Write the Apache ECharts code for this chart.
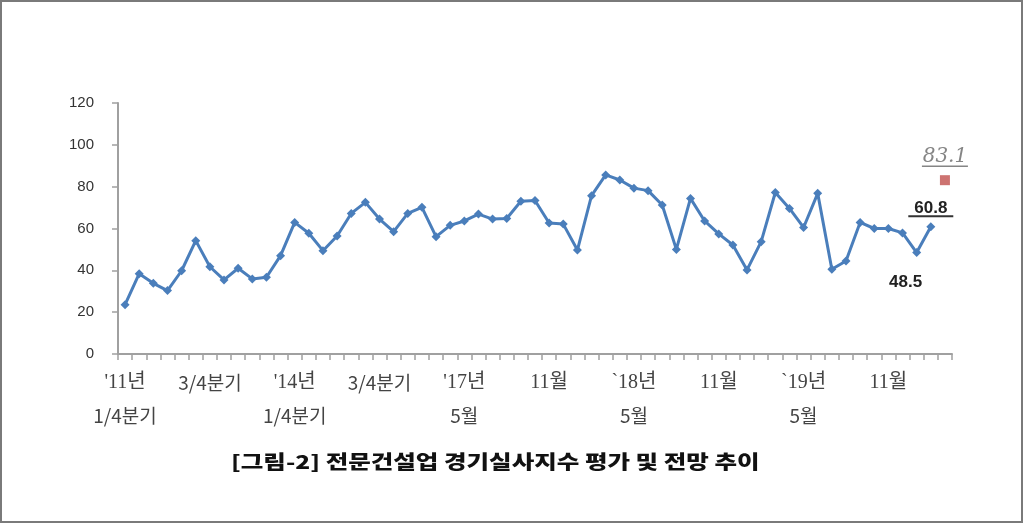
<!DOCTYPE html>
<html>
<head>
<meta charset="utf-8">
<script src="https://cdn.jsdelivr.net/npm/echarts@6/dist/echarts.min.js"></script>
<style>
  html, body { margin: 0; padding: 0; background: #fff; }
  #chart { position: absolute; left: 0; top: 0; width: 1024px; height: 524px; }
  #frame { position: absolute; left: 0; top: 0; width: 1023px; height: 523px; box-sizing: border-box; border: 2px solid #7a7a7a; pointer-events: none; }
</style>
</head>
<body>
<div id="chart"></div>
<div id="frame"></div>
<script>
// Categories: quarterly 2011Q1-2016Q4, then monthly 2017.5 - 2020.3 (last = outlook)
const categories = [
  '2011 1/4','2011 2/4','2011 3/4','2011 4/4',
  '2012 1/4','2012 2/4','2012 3/4','2012 4/4',
  '2013 1/4','2013 2/4','2013 3/4','2013 4/4',
  '2014 1/4','2014 2/4','2014 3/4','2014 4/4',
  '2015 1/4','2015 2/4','2015 3/4','2015 4/4',
  '2016 1/4','2016 2/4','2016 3/4','2016 4/4',
  '2017.05','2017.06','2017.07','2017.08','2017.09','2017.10','2017.11','2017.12',
  '2018.01','2018.02','2018.03','2018.04','2018.05','2018.06','2018.07','2018.08','2018.09','2018.10','2018.11','2018.12',
  '2019.01','2019.02','2019.03','2019.04','2019.05','2019.06','2019.07','2019.08','2019.09','2019.10','2019.11','2019.12',
  '2020.01','2020.02','2020.03'
];

// Tick labels shown under the axis: index -> [first row, second row]
const tickLabels = {
  0: ["'11년", '1/4분기'],
  6: ['3/4분기'],
  12: ["'14년", '1/4분기'],
  18: ['3/4분기'],
  24: ["'17년", '5월'],
  30: ['11월'],
  36: ['`18년', '5월'],
  42: ['11월'],
  48: ['`19년', '5월'],
  54: ['11월']
};

// Actual index (evaluation), one per category except the outlook month
const actualValues = [
  23.6, 38.4, 33.8, 30.3, 39.8, 54.2, 41.7, 35.4, 41.0, 35.9,
  36.7, 47.0, 62.9, 57.7, 49.4, 56.4, 67.2, 72.5, 64.5, 58.5,
  67.2, 70.1, 56.1, 61.5, 63.6, 66.9, 64.5, 64.8, 73.0, 73.4,
  62.6, 62.1, 49.7, 75.7, 85.6, 83.2, 79.3, 78.1, 71.2, 50.0,
  74.4, 63.6, 57.4, 52.1, 40.2, 53.7, 77.2, 69.6, 60.5, 76.8,
  40.5, 44.5, 62.9, 60.0, 60.0, 57.9, 48.5, 60.8
];

// Outlook for the next month
const forecastCategory = '2020.03';
const forecastValue = 83.1;

const yTicks = { min: 0, max: 120, interval: 20 };

const titleText = '[그림-2] 전문건설업 경기실사지수 평가 및 전망 추이';

const lineColor = '#4A7EBB';
const lastIdx = actualValues.length - 1;

const lineData = actualValues.map((v, i) => {
  if (i === lastIdx) {
    return {
      value: v,
      label: {
        show: true, position: 'top', distance: 5,
        formatter: '{v|' + v.toFixed(1) + '}\n{u| }',
        rich: {
          v: { fontSize: 17, fontWeight: 'bold', color: '#222', fontFamily: 'Arial, "Liberation Sans", sans-serif', lineHeight: 15 },
          u: { fontSize: 1, lineHeight: 2, height: 2, width: 45, backgroundColor: '#333' }
        }
      }
    };
  }
  if (i === lastIdx - 1) {
    return {
      value: v,
      label: {
        show: true, position: 'bottom', distance: 17, offset: [-11, 0],
        formatter: '{v|' + v.toFixed(1) + '}',
        rich: {
          v: { fontSize: 17, fontWeight: 'bold', color: '#222', fontFamily: 'Arial, "Liberation Sans", sans-serif' }
        }
      }
    };
  }
  return v;
});

const serifRow = (s) => /년|11월/.test(s);

const chart = echarts.init(document.getElementById('chart'), null, { renderer: 'canvas' });
chart.setOption({
  animation: false,
  backgroundColor: '#fff',
  graphic: [{
    type: 'text',
    left: 231, top: 452,
    scaleX: 1.29,
    style: {
      text: titleText,
      fontSize: 19, fontWeight: 900, fill: '#111',
      fontFamily: '"Noto Sans CJK KR", sans-serif'
    }
  }],
  grid: { left: 118, right: 72, top: 103, bottom: 170, containLabel: false },
  xAxis: {
    type: 'category',
    data: categories,
    boundaryGap: true,
    axisLine: { lineStyle: { color: '#a0a0a0', width: 2 } },
    axisTick: { show: true, interval: 0, length: 6, lineStyle: { color: '#a0a0a0', width: 1.5 } },
    axisLabel: {
      interval: 0,
      margin: 12,
      color: '#444',
      formatter: (val, idx) => {
        const rows = tickLabels[idx];
        if (!rows) return '';
        return rows.map(r => (serifRow(r) ? '{s|' : '{n|') + r + '}').join('\n');
      },
      rich: {
        s: { fontSize: 20, lineHeight: 33, color: '#444', fontFamily: '"Liberation Serif", "Noto Sans CJK KR", serif' },
        n: { fontSize: 19, lineHeight: 33, color: '#444', fontFamily: '"Noto Sans CJK KR", sans-serif' }
      }
    },
    splitLine: { show: false }
  },
  yAxis: {
    type: 'value',
    min: yTicks.min, max: yTicks.max, interval: yTicks.interval,
    axisLine: { show: true, lineStyle: { color: '#a0a0a0', width: 2 } },
    axisTick: { show: true, length: 6, lineStyle: { color: '#a0a0a0', width: 1.5 } },
    axisLabel: { margin: 24, fontSize: 15, color: '#333', fontFamily: 'Arial, "Liberation Sans", sans-serif' },
    splitLine: { show: false }
  },
  series: [
    {
      name: '평가',
      type: 'line',
      data: lineData,
      symbol: 'diamond',
      symbolSize: 9,
      lineStyle: { color: lineColor, width: 3 },
      itemStyle: { color: lineColor },
      z: 3
    },
    {
      name: '전망',
      type: 'scatter',
      data: [{
        value: [forecastCategory, forecastValue],
        label: {
          show: true, position: 'top', distance: 8,
          formatter: '{v|' + forecastValue.toFixed(1) + '}\n{u| }',
          rich: {
            v: { fontSize: 20, fontStyle: 'italic', color: '#666', fontFamily: '"DejaVu Serif", serif', lineHeight: 17 },
            u: { fontSize: 1, lineHeight: 2, height: 1.5, width: 46, backgroundColor: '#666' }
          }
        }
      }],
      symbol: 'rect',
      symbolSize: 10,
      itemStyle: { color: '#C0504D' },
      z: 4
    }
  ]
});
</script>
</body>
</html>
